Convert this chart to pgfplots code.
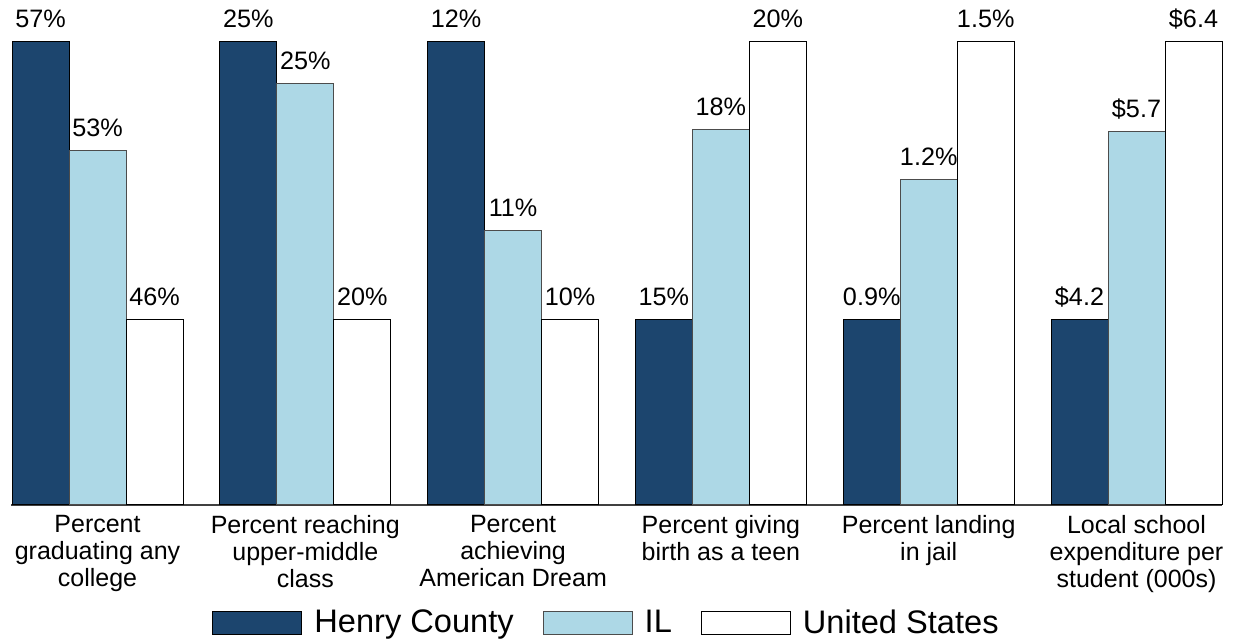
\documentclass[border=0pt]{standalone}
\usepackage{pgfplots}
\pgfplotsset{compat=1.18}
\usepackage{fontspec}
\setmainfont{Liberation Sans}
\definecolor{navy}{HTML}{1C456E}
\definecolor{lblue}{HTML}{ADD8E6}
\begin{document}
\begin{tikzpicture}
\begin{axis}[
  scale only axis, width=605.5pt, height=252.5pt,
  xmin=-0.4163, xmax=5.4115, ymin=0, ymax=505,
  enlargelimits=false, clip=false,
  axis x line=bottom, axis y line=none,
  x axis line style={-, draw=black!75, line width=1pt},
  ybar=0pt, bar width=28.5pt,
  xtick={0,1,2,3,4,5}, major tick length=0pt,
  xticklabels={{Percent\\graduating any\\college},{Percent reaching\\upper-middle\\class},{Percent\\achieving\\American Dream},{Percent giving\\birth as a teen},{Percent landing\\in jail},{Local school\\expenditure per\\student (000s)}},
  xticklabel style={align=center, font=\fontsize{12.5}{13.5}\selectfont, inner sep=0pt, anchor=north, yshift=-5pt},
  point meta=explicit symbolic,
  nodes near coords={\pgfplotspointmeta},
  every node near coord/.append style={font=\fontsize{12.6}{13.5}\selectfont, anchor=base, inner sep=0pt, yshift=7pt},
  legend style={at={(0.5,-0.2337)}, anchor=center, xshift=-4.5pt, draw=none, fill=none,
    font=\fontsize{16.3}{18}\selectfont, legend columns=3,
    /tikz/every odd column/.append style={column sep=4pt},
    /tikz/every even column/.append style={column sep=12.5pt}},
  legend image code/.code={\draw[#1] (0pt,-5.75pt) rectangle (44.5pt,5.75pt);},
]
\addplot[fill=navy, draw=black, line width=0.5pt] coordinates {
 (0,463) [57\%] (1,463) [25\%] (2,463) [12\%] (3,185) [15\%] (4,185) [0.9\%] (5,185) [\$4.2]};
\addplot[fill=lblue, draw=black!70, line width=0.5pt] coordinates {
 (0,354) [53\%] (1,421) [25\%] (2,274) [11\%] (3,375) [18\%] (4,325) [1.2\%] (5,373) [\$5.7]};
\addplot[fill=white, draw=black, line width=0.5pt] coordinates {
 (0,185) [46\%] (1,185) [20\%] (2,185) [10\%] (3,463) [20\%] (4,463) [1.5\%] (5,463) [\$6.4]};
\legend{Henry County, IL, United States}
\coordinate (sw) at (rel axis cs:0,0);
\end{axis}
\pgfresetboundingbox
\path ([shift={(-5.5pt,-67.5pt)}]sw) rectangle ([shift={(612.5pt,252.5pt)}]sw);
\end{tikzpicture}
\end{document}
